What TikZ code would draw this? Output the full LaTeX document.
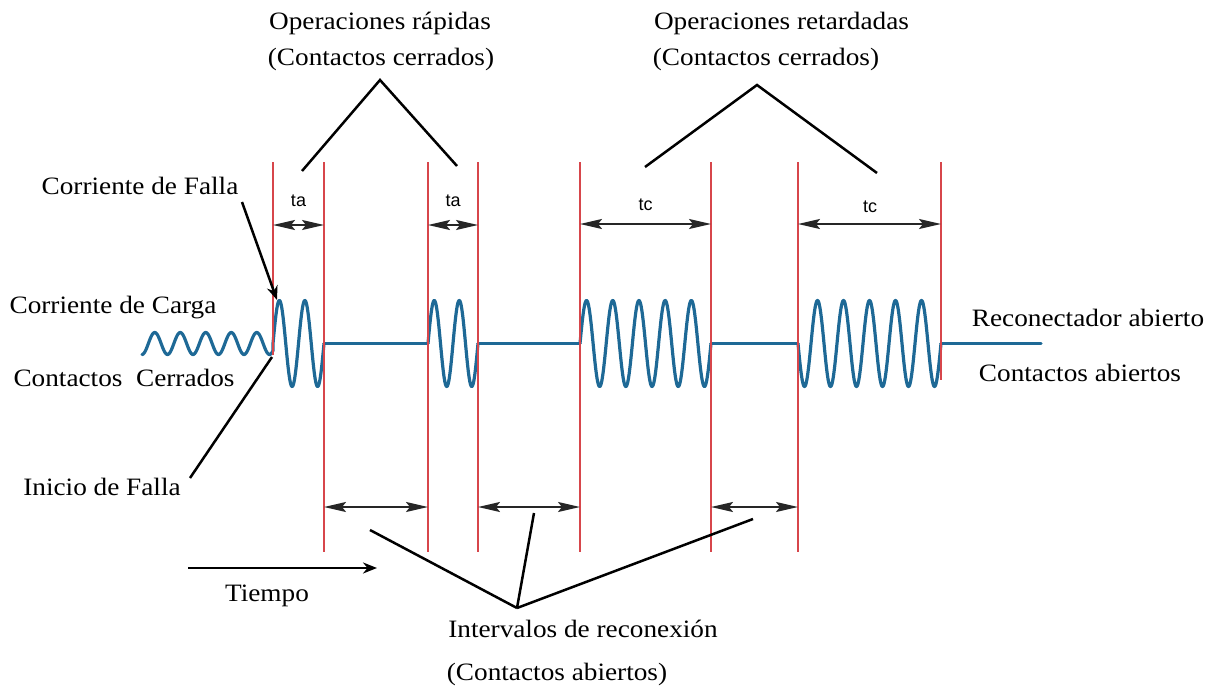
\documentclass[tikz,border=0pt]{standalone}
\usepackage{fontspec}
\setmainfont{Liberation Serif}[FakeStretch=1.09]
\newfontfamily\labelsans{Liberation Sans}
\usetikzlibrary{arrows.meta}
\definecolor{wavec}{RGB}{30,105,150}
\definecolor{redc}{RGB}{215,70,75}
\begin{document}
\begin{tikzpicture}[x=1pt,y=-1pt,
  lbl/.style={font=\fontsize{25}{30}\selectfont, inner sep=0pt, anchor=base},
  tlbl/.style={font=\labelsans\fontsize{18}{21}\selectfont, inner sep=0pt, anchor=base},
  redl/.style={draw=redc, line width=2.8pt},
  wavel/.style={draw=wavec, line width=3.2pt, line join=round, line cap=round},
  dimarrow/.style={draw=black!85, line width=2pt, {Stealth[length=22pt,width=10pt,inset=4pt]}-{Stealth[length=22pt,width=10pt,inset=4pt]}},
  lead/.style={draw=black, line width=2.5pt},
  leadarrow/.style={draw=black, line width=2.5pt, -{Stealth[length=14pt,width=11pt]}}
]
\useasboundingbox (0,0) rectangle (1223,688);

% ---------- waveform ----------
\draw[wavel] plot[domain=142:273, samples=200] (\x, {343.5 + 11*cos((\x-142)/25.5*360)})
  -- plot[domain=273:324, samples=120] (\x, {343.5 - 43*sin((\x-273)/51*720)});
\draw[wavel] (324,343.5) -- (428,343.5);
\draw[wavel] plot[domain=428:478, samples=120] (\x, {343.5 - 43*sin((\x-428)/50*720)});
\draw[wavel] (478,343.5) -- (580,343.5);
\draw[wavel] plot[domain=580:711, samples=300] (\x, {343.5 - 43*sin((\x-580)/131*1800)});
\draw[wavel] (711,343.5) -- (798,343.5);
\draw[wavel] plot[domain=798:941, samples=320] (\x, {343.5 + 43*sin((\x-798)/143*1980)});
\draw[wavel] (941,343.5) -- (1041,343.5);

% ---------- red lines ----------
\coordinate (r1t) at (273,162); \coordinate (r1b) at (273,355);
\coordinate (r2t) at (324,162); \coordinate (r2b) at (324,552);
\coordinate (r3t) at (428,162); \coordinate (r3b) at (428,552);
\coordinate (r4t) at (478,162); \coordinate (r4b) at (478,552);
\coordinate (r5t) at (580,162); \coordinate (r5b) at (580,552);
\coordinate (r6t) at (711,162); \coordinate (r6b) at (711,552);
\coordinate (r7t) at (798,162); \coordinate (r7b) at (798,552);
\coordinate (r8t) at (941,162); \coordinate (r8b) at (941,380);
\foreach \i in {1,...,8} { \draw[redl] (r\i t) -- (r\i b); }

% ---------- dimension arrows ----------
\draw[dimarrow] (r1t |- 0,225) -- (r2t |- 0,225);
\draw[dimarrow] (r3t |- 0,225) -- (r4t |- 0,225);
\draw[dimarrow] (r5t |- 0,224) -- (r6t |- 0,224);
\draw[dimarrow] (r7t |- 0,224) -- (r8t |- 0,224);
\draw[dimarrow] (r2t |- 0,507) -- (r3t |- 0,507);
\draw[dimarrow] (r4t |- 0,507) -- (r5t |- 0,507);
\draw[dimarrow] (r6t |- 0,507) -- (r7t |- 0,507);

\node[tlbl] (ta1) at (298.5,206.5) {ta};
\node[tlbl] (ta2) at (453,206.5) {ta};
\node[tlbl] (tc1) at (645.5,210) {tc};
\node[tlbl] (tc2) at (870,212) {tc};

% ---------- texts ----------
\node[lbl] (oprap) at (380,29.5) {Operaciones rápidas};
\node[lbl] (ccer1) at (381,65.5) {(Contactos cerrados)};
\node[lbl] (opret) at (781.5,29) {Operaciones retardadas};
\node[lbl] (ccer2) at (766,65) {(Contactos cerrados)};
\node[lbl] (cfalla) at (140,194) {Corriente de Falla};
\node[lbl] (ccarga) at (113,313) {Corriente de Carga};
\node[lbl] (ccerr) at (124,386.5) {Contactos~~Cerrados};
\node[lbl] (ifalla) at (102,495.5) {Inicio de Falla};
\node[lbl] (tiempo) at (267,601.5) {Tiempo};
\node[lbl] (interv) at (583,637.5) {Intervalos de reconexión};
\node[lbl] (cabi) at (557,680) {(Contactos abiertos)};
\node[lbl] (recab) at (1088,326) {Reconectador abierto};
\node[lbl] (cab2) at (1080,381.5) {Contactos abiertos};

% ---------- leader lines ----------
\coordinate (apx1) at (380,80);
\coordinate (apx1l) at (302,171);
\coordinate (apx1r) at (457,166);
\draw[lead, line join=miter] (apx1l) -- (apx1) -- (apx1r);

\coordinate (apx2) at (757,85);
\coordinate (apx2l) at (645,167);
\coordinate (apx2r) at (877,173);
\draw[lead, line join=miter] (apx2l) -- (apx2) -- (apx2r);

\coordinate (apx3) at (517,608);
\coordinate (apx3a) at (370,530);
\coordinate (apx3b) at (534,513);
\coordinate (apx3c) at (753,519);
\draw[lead] (apx3a) -- (apx3);
\draw[lead] (apx3b) -- (apx3);
\draw[lead] (apx3c) -- (apx3);

\coordinate (fallaStart) at (242,202);
\coordinate (fallaTip) at (277,300);
\draw[leadarrow] (fallaStart) -- (fallaTip);

\coordinate (inicioStart) at (190,478);
\coordinate (inicioEnd) at (272,357);
\draw[lead] (inicioStart) -- (inicioEnd);

\coordinate (tStart) at (188,568);
\coordinate (tEnd) at (377,568);
\draw[leadarrow] (tStart) -- (tEnd);
\end{tikzpicture}
\end{document}
